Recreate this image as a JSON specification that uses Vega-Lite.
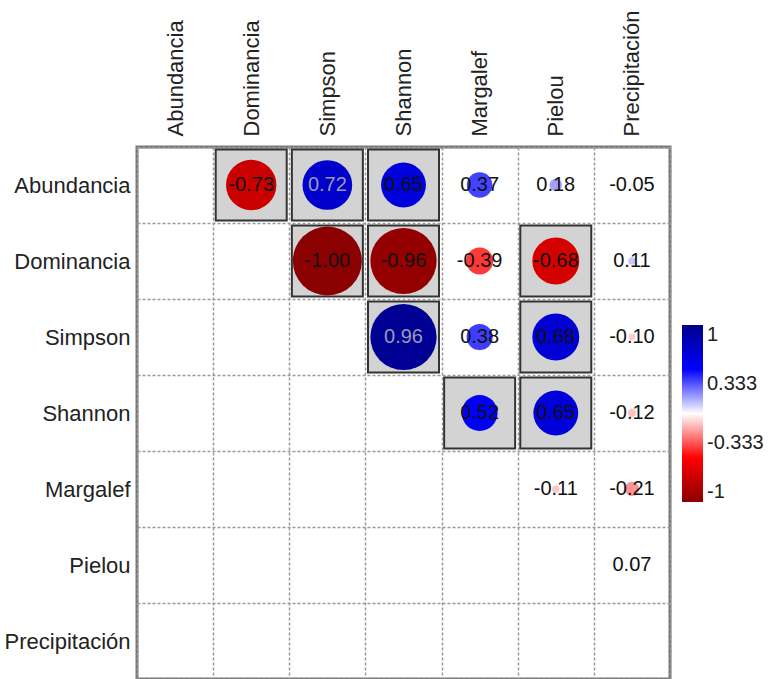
{
  "$schema": "https://vega.github.io/schema/vega-lite/v6.json",
  "width": 533,
  "height": 532,
  "autosize": "none",
  "padding": {"left": 137, "top": 147, "right": 105, "bottom": 0},
  "background": "white",
  "data": {
    "values": [
      {"row": "Abundancia", "col": "Dominancia", "r": -0.73, "sig": true},
      {"row": "Abundancia", "col": "Simpson", "r": 0.72, "sig": true},
      {"row": "Abundancia", "col": "Shannon", "r": 0.65, "sig": true},
      {"row": "Abundancia", "col": "Margalef", "r": 0.37, "sig": false},
      {"row": "Abundancia", "col": "Pielou", "r": 0.18, "sig": false},
      {"row": "Abundancia", "col": "Precipitación", "r": -0.05, "sig": false},
      {"row": "Dominancia", "col": "Simpson", "r": -1.0, "sig": true},
      {"row": "Dominancia", "col": "Shannon", "r": -0.96, "sig": true},
      {"row": "Dominancia", "col": "Margalef", "r": -0.39, "sig": false},
      {"row": "Dominancia", "col": "Pielou", "r": -0.68, "sig": true},
      {"row": "Dominancia", "col": "Precipitación", "r": 0.11, "sig": false},
      {"row": "Simpson", "col": "Shannon", "r": 0.96, "sig": true},
      {"row": "Simpson", "col": "Margalef", "r": 0.38, "sig": false},
      {"row": "Simpson", "col": "Pielou", "r": 0.68, "sig": true},
      {"row": "Simpson", "col": "Precipitación", "r": -0.10, "sig": false},
      {"row": "Shannon", "col": "Margalef", "r": 0.52, "sig": true},
      {"row": "Shannon", "col": "Pielou", "r": 0.65, "sig": true},
      {"row": "Shannon", "col": "Precipitación", "r": -0.12, "sig": false},
      {"row": "Margalef", "col": "Pielou", "r": -0.11, "sig": false},
      {"row": "Margalef", "col": "Precipitación", "r": -0.21, "sig": false},
      {"row": "Pielou", "col": "Precipitación", "r": 0.07, "sig": false}
    ]
  },
  "transform": [
    {"calculate": "abs(datum.r)", "as": "absr"},
    {"calculate": "replace(format(datum.r, '.2f'), '\u2212', '-')", "as": "label"}
  ],
  "encoding": {
    "x": {
      "field": "col", "type": "nominal",
      "scale": {"domain": ["Abundancia", "Dominancia", "Simpson", "Shannon", "Margalef", "Pielou", "Precipitación"], "paddingInner": 0, "paddingOuter": 0},
      "axis": {"orient": "top", "title": null, "labelAngle": -90, "labelAlign": "left", "labelBaseline": "middle", "labelPadding": 11, "labelFontSize": 22, "labelFont": "Liberation Sans", "labelColor": "#222", "domain": false, "ticks": false, "grid": true, "tickBand": "extent", "gridDash": [3, 2], "gridColor": "#9a9a9a", "gridWidth": 1.5}
    },
    "y": {
      "field": "row", "type": "nominal",
      "scale": {"domain": ["Abundancia", "Dominancia", "Simpson", "Shannon", "Margalef", "Pielou", "Precipitación"], "paddingInner": 0, "paddingOuter": 0},
      "axis": {"title": null, "labelPadding": 7, "labelFontSize": 22, "labelFont": "Liberation Sans", "labelColor": "#222", "domain": false, "ticks": false, "grid": true, "tickBand": "extent", "gridDash": [3, 2], "gridColor": "#9a9a9a", "gridWidth": 1.5, "labelLimit": 300}
    }
  },
  "layer": [
    {
      "transform": [{"filter": "datum.sig"}],
      "mark": {"type": "point", "shape": "square", "filled": true, "size": 5041, "fill": "#d3d3d3", "stroke": "#333333", "strokeWidth": 2, "opacity": 1}
    },
    {
      "mark": {"type": "point", "shape": "circle", "filled": true, "opacity": 1},
      "encoding": {
        "size": {"field": "absr", "type": "quantitative", "scale": {"type": "pow", "exponent": 2, "domain": [0, 1], "range": [0, 4761]}, "legend": null},
        "color": {
          "field": "r", "type": "quantitative",
          "scale": {"domain": [-1, -0.5, 0, 0.5, 1], "range": ["#8B0000", "#FF0000", "#FFFFFF", "#0000FF", "#00008B"], "interpolate": "rgb"},
          "legend": {"orient": "none", "legendX": 545, "legendY": 178, "direction": "vertical", "title": null, "gradientLength": 177, "gradientThickness": 21, "gradientStrokeWidth": 0, "values": [-1, -0.333, 0.333, 1], "labelExpr": "replace(format(datum.value, ''), '\u2212', '-')", "labelFontSize": 20, "labelFont": "Liberation Sans", "labelColor": "#222", "labelOffset": 4}
        }
      }
    },
    {
      "mark": {"type": "text", "fontSize": 20, "font": "Liberation Sans", "baseline": "middle", "align": "center"},
      "encoding": {
        "text": {"field": "label"},
        "color": {"condition": {"test": "datum.r > 0.7", "value": "#9a9ab0"}, "value": "#111111"}
      }
    }
  ],
  "config": {
    "view": {"stroke": "#777777", "strokeWidth": 3}
  }
}
